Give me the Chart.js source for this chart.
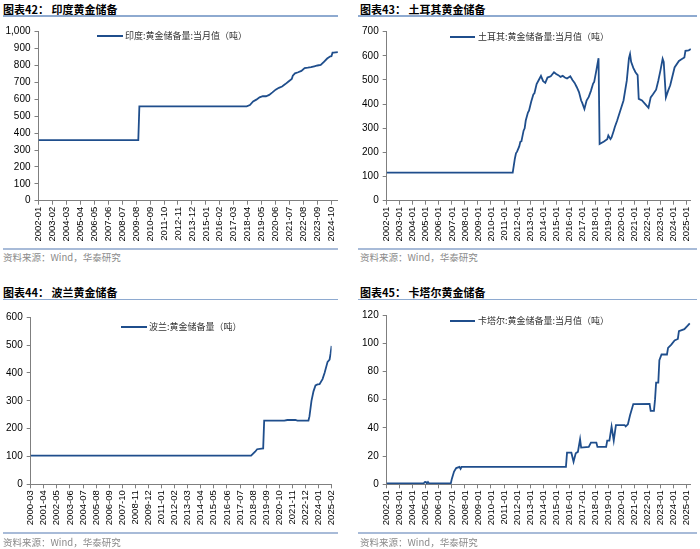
<!DOCTYPE html>
<html><head><meta charset="utf-8">
<script src="https://cdn.jsdelivr.net/npm/chart.js@4.4.1/dist/chart.umd.min.js"></script>
<style>
body{margin:0;width:700px;height:549px;background:#fff;position:relative;overflow:hidden;font-family:"Liberation Sans",Arial,sans-serif;}
.abs{position:absolute;}
.title{font-family:"Noto Sans CJK SC";font-weight:bold;font-size:11px;color:#000;line-height:14px;white-space:nowrap;}
.rule{height:1.5px;background:#8eaad0;}
.rule2{height:2px;background:#a8bbd8;}
.src{font-family:"Noto Sans CJK SC";font-size:9.5px;color:#8a8a8a;line-height:12px;white-space:nowrap;}
.lgl{height:2px;background:#1f4e8c;}
.lgt{font-family:"Noto Sans CJK SC";font-size:9px;color:#333;line-height:12px;white-space:nowrap;}
canvas{position:absolute;}
</style></head>
<body>
<div class="abs title" style="left:3px;top:2px">图表42： 印度黄金储备</div>
<div class="abs rule" style="left:3px;top:15px;width:335px"></div>
<div class="abs title" style="left:360px;top:2px">图表43： 土耳其黄金储备</div>
<div class="abs rule" style="left:358px;top:15px;width:339px"></div>
<div class="abs title" style="left:3px;top:285px">图表44： 波兰黄金储备</div>
<div class="abs rule" style="left:3px;top:298.5px;width:335px"></div>
<div class="abs title" style="left:360px;top:285px">图表45： 卡塔尔黄金储备</div>
<div class="abs rule" style="left:358px;top:298.5px;width:339px"></div>

<canvas id="c1" width="345" height="228" style="left:0;top:20px"></canvas>
<canvas id="c2" width="350" height="228" style="left:350px;top:20px"></canvas>
<canvas id="c3" width="345" height="230" style="left:0;top:303px"></canvas>
<canvas id="c4" width="350" height="230" style="left:350px;top:303px"></canvas>

<div class="abs lgl" style="left:97px;top:35px;width:26px"></div>
<div class="abs lgt" style="left:125px;top:30px">印度:黄金储备量:当月值（吨）</div>
<div class="abs lgl" style="left:450px;top:36px;width:25px"></div>
<div class="abs lgt" style="left:478px;top:31px">土耳其:黄金储备量:当月值（吨）</div>
<div class="abs lgl" style="left:121px;top:326px;width:26px"></div>
<div class="abs lgt" style="left:149px;top:320.5px">波兰:黄金储备量（吨）</div>
<div class="abs lgl" style="left:450px;top:320px;width:25px"></div>
<div class="abs lgt" style="left:478px;top:314.5px">卡塔尔:黄金储备量:当月值（吨）</div>

<div class="abs rule2" style="left:3px;top:248px;width:335px"></div>
<div class="abs src" style="left:3px;top:251px">资料来源：Wind，华泰研究</div>
<div class="abs rule2" style="left:358px;top:248px;width:339px"></div>
<div class="abs src" style="left:360px;top:251px">资料来源：Wind，华泰研究</div>
<div class="abs rule2" style="left:3px;top:532px;width:335px"></div>
<div class="abs src" style="left:3px;top:536px">资料来源：Wind，华泰研究</div>
<div class="abs rule2" style="left:358px;top:532px;width:339px"></div>
<div class="abs src" style="left:360px;top:536px">资料来源：Wind，华泰研究</div>

<script>
// ---------- data ----------
const indiaDates = ['2002-01','2009-10','2009-11','2018-03','2018-06','2018-09','2018-12','2019-03','2019-06','2019-09','2019-12','2020-03','2020-06','2020-09','2020-12','2021-03','2021-06','2021-09','2021-10','2021-12','2022-03','2022-06','2022-09','2022-12','2023-03','2023-06','2023-09','2023-12','2024-03','2024-06','2024-09','2024-10','2024-11','2024-12','2025-04'];
const indiaValues = [358,358,558,558,566,587,598,612,618,618,626,641,657,668,676,690,705,720,740,754,760,768,785,787,790,795,800,803,822,841,854,855,876,876,879];
const indiaTicks = ['2002-01','2003-02','2004-03','2005-04','2006-05','2007-06','2008-07','2009-08','2010-09','2011-10','2012-11','2013-12','2015-01','2016-02','2017-03','2018-04','2019-05','2020-06','2021-07','2022-08','2023-09','2024-10'];

const turkeyDates = ['2002-01','2011-09','2011-11','2011-12','2012-01','2012-03','2012-04','2012-05','2012-07','2012-08','2012-09','2012-11','2012-12','2013-02','2013-04','2013-05','2013-07','2013-09','2013-11','2014-01','2014-03','2014-05','2014-08','2014-11','2015-01','2015-03','2015-05','2015-07','2015-09','2015-11','2016-02','2016-04','2016-06','2016-08','2016-10','2016-12','2017-01','2017-03','2017-05','2017-07','2017-09','2017-11','2017-12','2018-02','2018-03','2018-04','2018-05','2018-09','2018-12','2019-01','2019-03','2019-04','2019-06','2019-07','2019-09','2019-12','2020-03','2020-06','2020-08','2020-09','2020-10','2020-12','2021-02','2021-04','2021-05','2021-08','2021-11','2022-02','2022-04','2022-06','2022-09','2022-11','2023-01','2023-03','2023-04','2023-06','2023-08','2023-10','2024-02','2024-06','2024-08','2024-11','2024-12','2025-03','2025-05'];
const turkeyValues = [116,116,175,196,203,225,244,246,290,300,332,365,373,410,440,445,483,500,517,495,488,510,515,532,525,520,513,517,510,506,515,500,488,470,450,415,405,380,415,430,455,485,492,540,566,590,235,245,255,270,255,262,290,305,330,373,415,497,590,607,575,550,532,520,422,415,400,385,428,440,460,497,540,588,575,428,455,478,552,579,585,593,621,623,628];
const yearTicks = ['2002-01','2003-01','2004-01','2005-01','2006-01','2007-01','2008-01','2009-01','2010-01','2011-01','2012-01','2013-01','2014-01','2015-01','2016-01','2017-01','2018-01','2019-01','2020-01','2021-01','2022-01','2023-01','2024-01','2025-01'];

const polandDates = ['2000-03','2018-06','2018-08','2018-10','2018-12','2019-06','2019-07','2021-03','2021-06','2022-02','2022-04','2023-03','2023-04','2023-06','2023-08','2023-10','2023-12','2024-02','2024-05','2024-07','2024-10','2024-12','2025-01','2025-02'];
const polandValues = [102.8,102.8,110,117,126,128.6,228.6,228.6,231,231,229,229,244,300,334,355,358.7,360,378,400,440,448,470,497];
const polandTicks = ['2000-03','2001-04','2002-05','2003-06','2004-07','2005-08','2006-09','2007-10','2008-11','2009-12','2011-01','2012-02','2013-03','2014-04','2015-05','2016-06','2017-07','2018-08','2019-09','2020-10','2021-11','2022-12','2024-01','2025-02'];

const qatarDates = ['2002-01','2004-11','2004-12','2005-01','2005-02','2005-03','2005-04','2006-12','2007-01','2007-03','2007-05','2007-08','2007-09','2007-10','2015-10','2015-11','2016-03','2016-05','2016-07','2016-09','2016-11','2016-12','2017-07','2017-09','2018-02','2018-03','2018-11','2018-12','2019-02','2019-04','2019-05','2019-06','2019-08','2020-04','2020-05','2020-07','2020-09','2020-12','2022-03','2022-04','2022-07','2022-08','2022-09','2022-11','2022-12','2023-02','2023-07','2023-08','2023-11','2024-02','2024-05','2024-06','2024-11','2025-04'];
const qatarValues = [0.6,0.6,1.6,1.7,0.6,1.6,0.6,0.6,4,9,11.5,12.4,11,12.4,12.4,22.4,22.4,16,22,23,31.9,26,26.5,29.5,29.5,26.5,26.5,31,31,40.9,36,31,42,42,41,42.5,49,56.9,57,52,52,60,72,72,88,92,92,96.7,99,102,103,108.6,110,114];

// ---------- drawing ----------
const LINE = '#1f4e8c', AX = '#7f7f7f';
function mi(s){const p=s.split('-').map(Number);return p[0]*12+p[1]-1;}
function build(id, c){
  const base = mi(c.start);
  const pts = c.dates.map((d,i)=>({x:mi(d)-base,y:c.values[i]}));
  const tickPos = c.ticks.map(t=>mi(t)-base);
  const labelAt = {}; c.ticks.forEach((t,i)=>{labelAt[tickPos[i]]=t;});
  new Chart(document.getElementById(id), {
    type:'line',
    data:{datasets:[{data:pts,borderColor:LINE,borderWidth:1.8,pointRadius:0,tension:0,fill:false}]},
    options:{
      responsive:false, animation:false, events:[],
      layout:{padding:c.pad},
      plugins:{legend:{display:false},tooltip:{enabled:false}},
      scales:{
        x:{type:'linear',min:0,max:c.xmax,
          afterBuildTicks:s=>{s.ticks=tickPos.map(v=>({value:v}));},
          afterFit:s=>{s.height=c.xh;},
          ticks:{autoSkip:false,maxRotation:90,minRotation:90,padding:2,color:'#000',
                 font:{family:'Liberation Sans',size:9.5},callback:v=>labelAt[v]},
          grid:{drawOnChartArea:false,drawTicks:true,tickLength:4,color:AX,lineWidth:1},
          border:{color:AX,width:1}},
        y:{min:0,max:c.ymax,
          afterFit:s=>{s.width=c.yw;},
          ticks:{stepSize:c.step,padding:4,color:'#000',font:{family:'Liberation Sans',size:10},
                 callback:v=>Number(v).toLocaleString('en-US')},
          grid:{drawOnChartArea:false,drawTicks:true,tickLength:4,color:AX,lineWidth:1},
          border:{color:AX,width:1}}
      }
    }
  });
}
build('c1',{start:'2002-01',dates:indiaDates,values:indiaValues,ticks:indiaTicks,xmax:279,ymax:1000,step:100,
  pad:{left:0,top:11.7,right:7,bottom:2.3},yw:38.5,xh:45});
build('c2',{start:'2002-01',dates:turkeyDates,values:turkeyValues,ticks:yearTicks,xmax:280,ymax:700,step:100,
  pad:{left:0,top:11.7,right:5,bottom:2.3},yw:36.7,xh:45});
build('c3',{start:'2000-03',dates:polandDates,values:polandValues,ticks:polandTicks,xmax:299,ymax:600,step:100,
  pad:{left:0,top:14.3,right:8,bottom:3.7},yw:30.7,xh:45});
build('c4',{start:'2002-01',dates:qatarDates,values:qatarValues,ticks:yearTicks,xmax:280,ymax:120,step:20,
  pad:{left:0,top:12,right:5,bottom:3.7},yw:36.7,xh:45});
</script>
</body></html>
